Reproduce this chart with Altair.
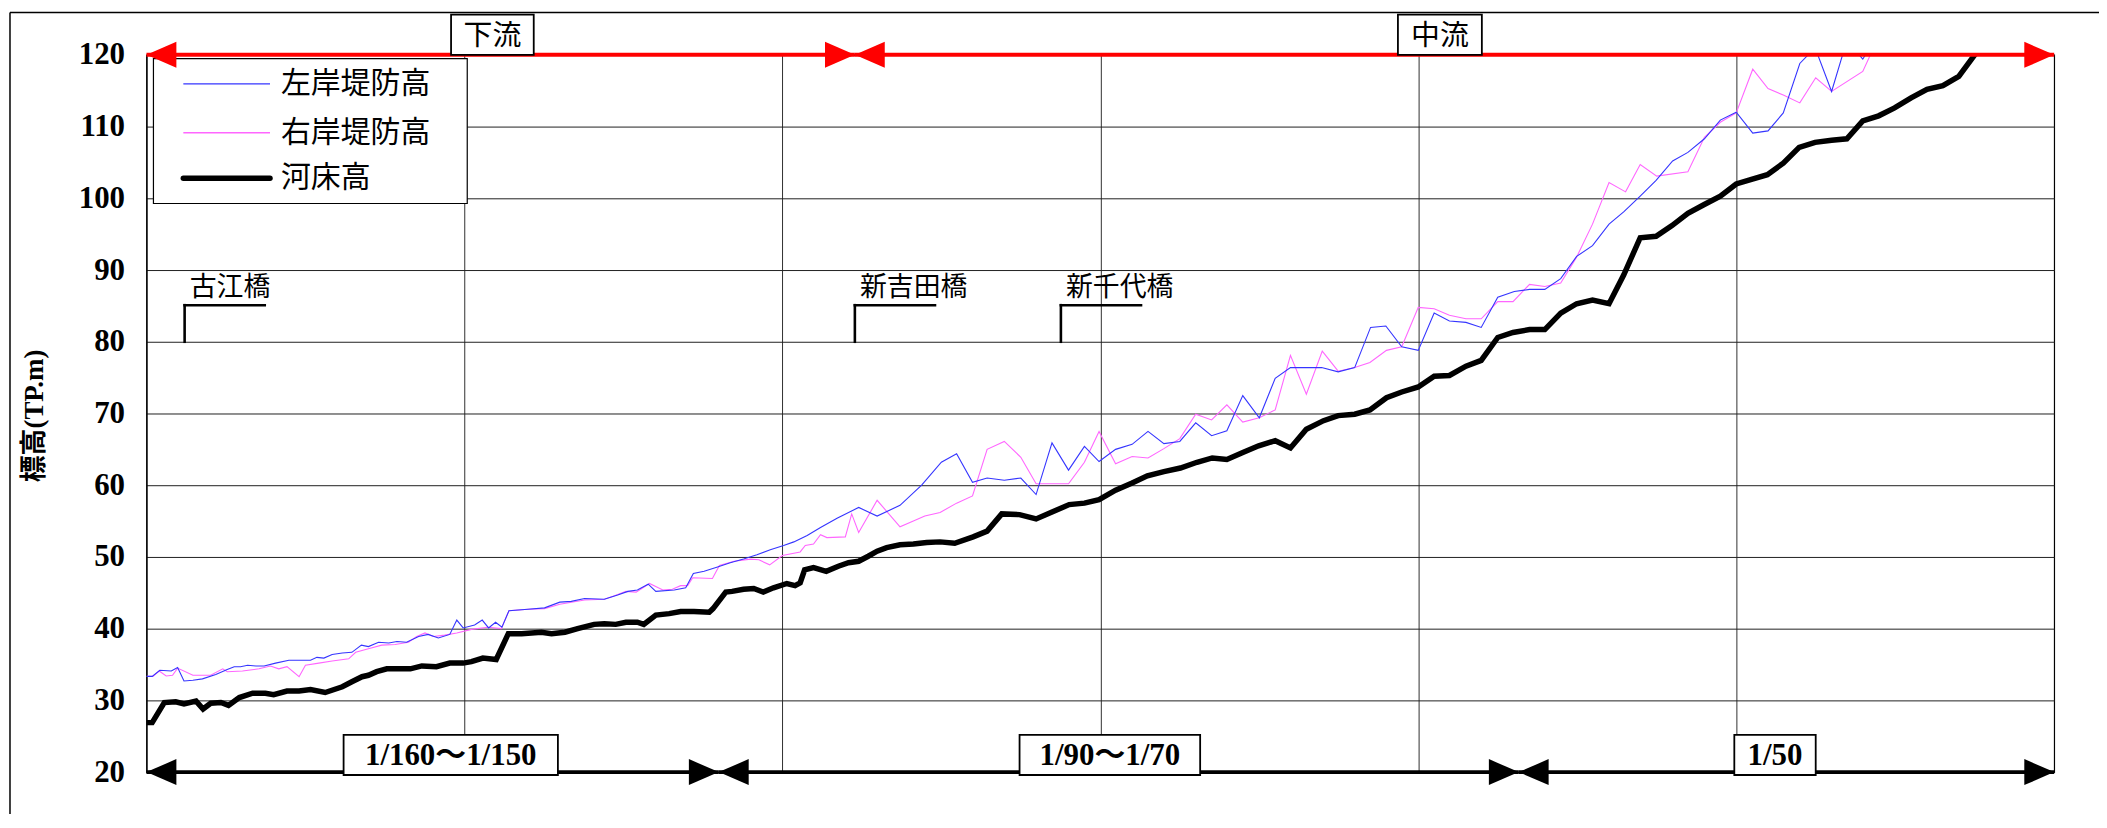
import altair as alt
import pandas as pd

# ---------------- data (distance from downstream end [km], elevation TP.m) ----------------
bed_km = [0.0, 0.09, 0.28, 0.46, 0.59, 0.78, 0.89, 1.01, 1.17, 1.29, 1.46, 1.67, 1.87, 2.0, 2.21, 2.40,
          2.58, 2.81, 3.08, 3.23, 3.39, 3.49, 3.62, 3.78, 3.94, 4.15, 4.33, 4.56, 4.77, 4.98, 5.11, 5.29,
          5.50, 5.69, 5.90, 6.21, 6.37, 6.58, 6.78, 7.04, 7.20, 7.38, 7.54, 7.72, 7.82, 8.01, 8.22, 8.40,
          8.61, 8.85, 8.91, 9.11, 9.21, 9.39, 9.55, 9.70, 9.86, 10.07, 10.20, 10.28, 10.35, 10.49, 10.69,
          10.88, 11.04, 11.20, 11.35, 11.49, 11.64, 11.85, 12.06, 12.27, 12.48, 12.71, 13.0, 13.22, 13.45,
          13.73, 13.99, 14.25, 14.51, 14.75, 14.98, 15.24, 15.50, 15.74, 16.0, 16.26, 16.52, 16.76, 16.99,
          17.25, 17.49, 17.75, 17.99, 18.24, 18.51, 18.74, 19.0, 19.24, 19.50, 19.74, 20.0, 20.25, 20.49,
          20.75, 20.99, 21.25, 21.49, 21.75, 21.99, 22.24, 22.49, 22.74, 23.0, 23.23, 23.49, 23.74, 23.99,
          24.24, 24.49, 24.75, 25.0, 25.24, 25.49, 25.74, 25.99, 26.24, 26.50, 26.74, 26.99, 27.24, 27.49,
          27.75, 28.0, 28.25, 28.50, 28.75, 29.0]
bed_el = [26.9, 26.9, 29.7, 29.8, 29.5, 29.9, 28.8, 29.6, 29.7, 29.3, 30.4, 31.0, 31.0, 30.8, 31.3, 31.3,
          31.5, 31.1, 31.9, 32.6, 33.3, 33.5, 34.0, 34.4, 34.4, 34.4, 34.8, 34.7, 35.2, 35.2, 35.4, 35.9,
          35.7, 39.3, 39.3, 39.5, 39.3, 39.5, 40.0, 40.6, 40.7, 40.6, 40.9, 40.9, 40.6, 41.9, 42.1, 42.4,
          42.4, 42.3, 42.8, 45.1, 45.2, 45.5, 45.6, 45.1, 45.7, 46.3, 46.0, 46.4, 48.2, 48.5, 48.0,
          48.7, 49.2, 49.4, 50.1, 50.8, 51.3, 51.7, 51.8, 52.0, 52.1, 51.9, 52.8, 53.6, 56.0,
          55.9, 55.3, 56.3, 57.3, 57.5, 58.0, 59.3, 60.3, 61.3, 61.9, 62.4, 63.2, 63.8, 63.6,
          64.6, 65.5, 66.2, 65.2, 67.8, 69.0, 69.7, 69.9, 70.5, 72.2, 73.0, 73.7, 75.2, 75.3,
          76.6, 77.4, 80.6, 81.3, 81.7, 81.7, 84.0, 85.3, 85.8, 85.3, 89.3, 94.5, 94.7, 96.2,
          97.9, 99.1, 100.3, 102.0, 102.65, 103.3, 104.9, 107.1, 107.8, 108.1, 108.3, 110.8, 111.5, 112.6,
          114.0, 115.2, 115.7, 117.0, 120.0, 122.5]

left_km = [0.0, 0.09, 0.21, 0.39, 0.49, 0.59, 0.73, 0.88, 1.09, 1.27,
           1.38, 1.48, 1.59, 1.72, 1.85, 2.03, 2.24, 2.40, 2.58, 2.68,
           2.79, 2.92, 3.08, 3.23, 3.38, 3.49, 3.65, 3.81, 3.94, 4.09,
           4.28, 4.43, 4.59, 4.77, 4.88, 4.98, 5.16, 5.28, 5.38, 5.49,
           5.59, 5.70, 6.00, 6.26, 6.50, 6.68, 6.89, 7.20, 7.41, 7.57,
           7.72, 7.89, 8.01, 8.30, 8.48, 8.60, 8.77, 8.98, 9.18, 9.39,
           9.60, 9.81, 10.02, 10.18, 10.39, 10.60, 10.86, 11.20, 11.49, 11.85,
           12.19, 12.50, 12.74, 12.99, 13.22, 13.49, 13.75, 13.99, 14.24, 14.50,
           14.75, 14.98, 15.24, 15.50, 15.75, 16.00, 16.25, 16.50, 16.75, 16.99,
           17.24, 17.50, 17.75, 17.99, 18.24, 18.48, 18.74, 19.0, 19.25, 19.49,
           19.74, 20.0, 20.25, 20.49, 20.75, 20.99, 21.25, 21.51, 21.75, 21.99,
           22.24, 22.49, 22.74, 23.0, 23.23, 23.49, 23.74, 24.0, 24.24, 24.5,
           24.75, 25.0, 25.26, 25.5, 25.74, 26.0, 26.24, 26.5, 26.74, 26.99,
           27.24]
left_el = [33.35, 33.35, 34.2, 34.1, 34.6, 32.7, 32.8, 33.0, 33.6, 34.3,
           34.7, 34.7, 34.9, 34.8, 34.8, 35.2, 35.6, 35.6, 35.6, 36.0,
           35.9, 36.4, 36.6, 36.7, 37.7, 37.5, 38.1, 38.0, 38.2, 38.1,
           38.9, 39.2, 38.7, 39.2, 41.2, 40.1, 40.5, 41.2, 40.1, 40.9,
           40.2, 42.5, 42.7, 42.9, 43.7, 43.8, 44.2, 44.1, 44.7, 45.2,
           45.4, 46.2, 45.2, 45.4, 45.7, 47.7, 48.0, 48.6, 49.2, 49.7,
           50.3, 51.0, 51.6, 52.1, 53.0, 54.1, 55.4, 56.9, 55.7, 57.2,
           60.0, 63.2, 64.4, 60.4, 61.0, 60.7, 61.0, 58.7, 65.9, 62.1,
           65.4, 63.3, 65.0, 65.7, 67.5, 65.8, 66.1, 68.7, 66.9, 67.6,
           72.5, 69.4, 74.9, 76.4, 76.4, 76.4, 75.8, 76.4, 82.0, 82.2,
           79.3, 78.8, 84.0, 82.9, 82.7, 82.0, 86.2, 87.0, 87.3, 87.3,
           88.8, 91.9, 93.4, 96.4, 98.1, 100.3, 102.5, 105.2, 106.4, 108.3,
           110.9, 112.0, 109.1, 109.4, 111.9, 118.8, 121.0, 114.9, 122.0, 119.4,
           123.0]

right_km = [0.0, 0.1, 0.2, 0.31, 0.41, 0.49, 0.73, 1.01, 1.20, 1.27,
            1.51, 1.77, 1.95, 2.08, 2.21, 2.40, 2.50, 2.71, 2.92, 3.18,
            3.29, 3.49, 3.70, 3.91, 4.12, 4.25, 4.38, 4.51, 4.69, 4.88,
            5.11, 5.37, 5.58, 5.70, 6.00, 6.26, 6.50, 6.89, 7.20, 7.36,
            7.54, 7.70, 7.91, 8.12, 8.27, 8.40, 8.51, 8.59, 8.90, 9.01,
            9.24, 9.50, 9.63, 9.80, 10.0, 10.28, 10.36, 10.49, 10.60, 10.70,
            10.99, 11.09, 11.20, 11.49, 11.85, 12.06, 12.24, 12.48, 12.74, 12.99,
            13.22, 13.49, 13.75, 13.99, 14.25, 14.50, 14.75, 14.98, 15.24, 15.50,
            15.75, 16.0, 16.25, 16.50, 16.75, 16.99, 17.24, 17.50, 17.75, 17.99,
            18.24, 18.49, 18.74, 19.0, 19.24, 19.50, 19.74, 20.0, 20.25, 20.49,
            20.75, 20.99, 21.25, 21.49, 21.75, 21.99, 22.24, 22.49, 22.74, 23.0,
            23.26, 23.49, 23.75, 24.24, 24.5, 24.75, 25.0, 25.26, 25.5, 25.74,
            26.0, 26.25, 26.5, 26.99, 27.24]
right_el = [33.35, 33.35, 34.1, 33.4, 33.5, 34.5, 33.5, 33.5, 34.4, 34.0,
            34.1, 34.4, 34.8, 34.4, 34.7, 33.3, 34.9, 35.2, 35.5, 35.8,
            36.7, 37.2, 37.7, 37.8, 38.1, 38.9, 39.4, 38.9, 39.1, 39.4,
            39.9, 40.2, 40.0, 42.5, 42.7, 42.8, 43.4, 44.0, 44.1, 44.6,
            45.2, 45.1, 46.3, 45.4, 45.5, 46.0, 46.0, 47.1, 47.0, 48.8,
            49.4, 49.7, 49.6, 48.9, 50.2, 50.7, 51.6, 51.8, 53.1, 52.7,
            52.8, 56.0, 53.4, 57.9, 54.2, 55.0, 55.7, 56.2, 57.5, 58.5,
            65.0, 66.1, 63.9, 60.2, 60.2, 60.2, 63.2, 67.5, 63.0, 64.0,
            63.8, 65.1, 66.5, 69.9, 69.1, 71.2, 68.8, 69.4, 70.5, 78.1,
            72.7, 78.7, 75.9, 76.4, 77.1, 78.8, 79.3, 84.8, 84.6, 83.7,
            83.2, 83.2, 85.6, 85.6, 88.0, 87.7, 88.2, 91.8, 96.4, 102.2,
            100.9, 104.7, 103.1, 103.7, 108.5, 110.6, 111.9, 118.0, 115.3, 114.4,
            113.3, 116.8, 114.9, 117.7, 122.5]

series_names = ["左岸堤防高", "右岸堤防高", "河床高"]

bridge_names = ["古江橋", "新吉田橋", "新千代橋"]
bridge_km = [0.60, 11.14, 14.38]

reach_names = ["下流", "中流"]
reach_start = [0.0, 11.14]
reach_end = [11.14, 30.0]
reach_level = 120

slope_names = ["1/160～1/150", "1/90～1/70", "1/50"]
slope_start = [0.0, 9.0, 21.58]
slope_end = [9.0, 21.58, 30.0]
slope_level = 20

# ---------------- layout / style ----------------
PLOT_W, PLOT_H = 1915, 720
PAD = {"left": 139, "top": 45.5, "right": 45, "bottom": 40}
SERIF = "Liberation Serif, Noto Sans CJK JP"
GOTHIC = "Noto Sans CJK JP"
BLUE, PINK, BLACK, RED = "#3535ff", "#ff66ff", "#000000", "#ff0000"

reach_box_center = [5.44, 20.34]
reach_box_half = [0.65, 0.66]
reach_box_y = (120.0, 125.6)
slope_box_center = [4.785, 15.15, 25.61]
slope_box_half = [1.685, 1.42, 0.64]
slope_box_y = (19.6, 25.2)

xs = alt.Scale(domain=[0, 30], nice=False, zero=False)
ys = alt.Scale(domain=[20, 120], nice=False, zero=False)

x_axis = alt.Axis(values=[5, 10, 15, 20, 25], labels=False, ticks=False, domain=False,
                  title=None, grid=True, gridColor="#303030", gridWidth=1, gridOpacity=1)
y_axis = alt.Axis(values=list(range(20, 121, 10)), title="標高(TP.m)", grid=True,
                  gridColor="#202020", gridWidth=1, gridOpacity=1, ticks=False, domain=True,
                  domainColor="black", domainWidth=1.2, labelFont=SERIF, labelFontSize=31,
                  labelFontWeight="bold", labelColor="black", labelPadding=22, titleFont=SERIF,
                  titleFontSize=27, titleFontWeight="bold", titleColor="black", titleAngle=270,
                  titleX=-112, titleY=362, titleAlign="center", titleBaseline="middle")


def X(f):
    return alt.X(f, type="quantitative", scale=xs, axis=x_axis)


def Y(f):
    return alt.Y(f, type="quantitative", scale=ys, axis=y_axis)


def series_layer(km, el, color, width):
    df = pd.DataFrame({"km": km, "el": el})
    return alt.Chart(df).mark_line(color=color, strokeWidth=width, clip=True).encode(
        x=X("km"), y=Y("el"))


layers = []
layers.append(series_layer(right_km, right_el, PINK, 1.1))
layers.append(series_layer(left_km, left_el, BLUE, 1.1))
layers.append(series_layer(bed_km, bed_el, BLACK, 5.5))

# bridges
bdf = pd.DataFrame({"name": bridge_names, "km": bridge_km})
bdf["km_end"] = bdf["km"] + 1.26
bdf["km_txt"] = bdf["km"] + 0.08
bdf["y0"], bdf["y1"], bdf["yt"] = 80.0, 85.1, 86.4
layers.append(alt.Chart(bdf).mark_rule(color="black", strokeWidth=2.6, strokeCap="square").encode(
    x=X("km"), y=Y("y0"), y2="y1"))
layers.append(alt.Chart(bdf).mark_rule(color="black", strokeWidth=2.6, strokeCap="square").encode(
    x=X("km"), x2="km_end", y=Y("y1")))
layers.append(alt.Chart(bdf).mark_text(font=GOTHIC, fontSize=27, align="left", baseline="alphabetic",
                                       color="black").encode(x=X("km_txt"), y=Y("yt"), text="name"))

# legend (drawn)
layers.append(alt.Chart(pd.DataFrame({"a": [0]})).mark_rect(
    fill="white", stroke="black", strokeWidth=1.2).encode(
    x=alt.value(7), x2=alt.value(322), y=alt.value(3.8), y2=alt.value(149.2)))
leg_y = [29.2, 78.2, 123.8]
leg_style = [(BLUE, 1.2), (PINK, 1.6), (BLACK, 5.5)]
for name, ly, (c, w) in zip(series_names, leg_y, leg_style):
    d = pd.DataFrame({"name": [name]})
    layers.append(alt.Chart(d).mark_rule(color=c, strokeWidth=w, strokeCap="round" if w > 3 else "butt").encode(
        x=alt.value(37), x2=alt.value(124), y=alt.value(ly)))
    layers.append(alt.Chart(d).mark_text(font=GOTHIC, fontSize=30, align="left", baseline="middle",
                                         color="black").encode(
        x=alt.value(135), y=alt.value(ly), text="name"))

# reach arrow (red) and slope arrow (black)
rdf = pd.DataFrame({"name": reach_names, "start": reach_start, "end": reach_end, "lvl": reach_level})
sdf = pd.DataFrame({"name": slope_names, "start": slope_start, "end": slope_end, "lvl": slope_level})
HEAD_R = "M0,0L-2,-0.87L-2,0.87Z"
HEAD_L = "M0,0L2,-0.87L2,0.87Z"
for df, col in ((rdf, RED), (sdf, BLACK)):
    layers.append(alt.Chart(df).mark_rule(color=col, strokeWidth=4).encode(
        x=X("start"), x2="end", y=Y("lvl")))
    layers.append(alt.Chart(df).mark_point(shape=HEAD_L, size=900, filled=True, color=col, opacity=1,
                                           strokeWidth=0).encode(x=X("start"), y=Y("lvl")))
    layers.append(alt.Chart(df).mark_point(shape=HEAD_R, size=900, filled=True, color=col, opacity=1,
                                           strokeWidth=0).encode(x=X("end"), y=Y("lvl")))

# labelled boxes
rbox = pd.DataFrame({"name": reach_names, "c": reach_box_center, "h": reach_box_half})
sbox = pd.DataFrame({"name": slope_names, "c": slope_box_center, "h": slope_box_half})
for df, (yb, yt), font, fsize, weight in ((rbox, reach_box_y, GOTHIC, 29, "normal"),
                                           (sbox, slope_box_y, SERIF, 31, "bold")):
    df["x1"] = df["c"] - df["h"]
    df["x2"] = df["c"] + df["h"]
    df["yb"], df["yt"], df["ym"] = yb, yt, (yb + yt) / 2
    layers.append(alt.Chart(df).mark_rect(fill="white", stroke="black", strokeWidth=1.8).encode(
        x=X("x1"), x2="x2", y=Y("yb"), y2="yt"))
    layers.append(alt.Chart(df).mark_text(font=font, fontSize=fsize, fontWeight=weight, color="black",
                                          align="center", baseline="middle", dy=1).encode(
        x=X("c"), y=Y("ym"), text="name"))

# outer frame (left and top edges of the figure)
one = pd.DataFrame({"a": [0]})
layers.append(alt.Chart(one).mark_rule(color="black", strokeWidth=1.5).encode(
    x=alt.value(-137), y=alt.value(-42.5), y2=alt.value(790)))
layers.append(alt.Chart(one).mark_rule(color="black", strokeWidth=1.5).encode(
    x=alt.value(-137), x2=alt.value(1970), y=alt.value(-42.5)))

chart = alt.layer(*layers).properties(
    width=PLOT_W, height=PLOT_H, padding=PAD, autosize=alt.AutoSizeParams(type="none"),
    background="white",
).configure_view(stroke="black", strokeWidth=1.2)

chart.save("out.html", embed_options={"renderer": "svg", "actions": False})
